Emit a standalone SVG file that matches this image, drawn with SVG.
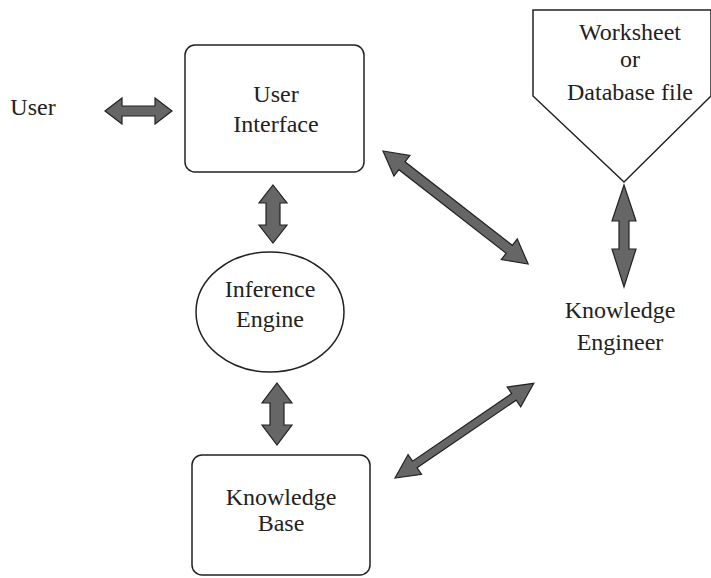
<svg xmlns="http://www.w3.org/2000/svg" width="711" height="578" viewBox="0 0 711 578">
<style>
.node{fill:#fff;stroke:#222;stroke-width:1.5}
.t{font-family:'Liberation Serif','DejaVu Serif',serif;font-size:24px;fill:#222;text-anchor:middle}
.arr{fill:#666;stroke:#222;stroke-width:1.2;stroke-linejoin:miter}
</style>
<rect width="711" height="578" fill="#fff"/>
<g id="user">
<text class="t" x="33" y="115" font-family="Liberation Serif, serif">User</text>
</g>
<g id="user-interface">
<rect class="node" x="185" y="45" width="179" height="127" rx="10"/>
<text class="t" x="276" y="102" font-family="Liberation Serif, serif">User</text>
<text class="t" x="276" y="132" font-family="Liberation Serif, serif">Interface</text>
</g>
<g id="inference-engine">
<ellipse class="node" cx="270" cy="312" rx="74" ry="60"/>
<text class="t" x="270" y="297" font-family="Liberation Serif, serif">Inference</text>
<text class="t" x="270" y="327" font-family="Liberation Serif, serif">Engine</text>
</g>
<g id="knowledge-base">
<rect class="node" x="192" y="455" width="178" height="120" rx="10"/>
<text class="t" x="281" y="505" font-family="Liberation Serif, serif">Knowledge</text>
<text class="t" x="281" y="531" font-family="Liberation Serif, serif">Base</text>
</g>
<g id="worksheet">
<polygon class="node" points="533,10 711,10 711,96 624,182 533,96"/>
<text class="t" x="630" y="40" font-family="Liberation Serif, serif">Worksheet</text>
<text class="t" x="630" y="67" font-family="Liberation Serif, serif">or</text>
<text class="t" x="630" y="100" font-family="Liberation Serif, serif">Database file</text>
</g>
<g id="knowledge-engineer">
<text class="t" x="620" y="318" font-family="Liberation Serif, serif">Knowledge</text>
<text class="t" x="620" y="350" font-family="Liberation Serif, serif">Engineer</text>
</g>
<g id="connectors">
<path class="arr" transform="translate(105,111)" d="M0,0 L17,-13 L17,-5 L50,-5 L50,-13 L67,0 L50,13 L50,5 L17,5 L17,13 Z"/>
<path class="arr" transform="translate(273,185) rotate(90)" d="M0,0 L18,-14 L18,-7 L40,-7 L40,-14 L58,0 L40,14 L40,7 L18,7 L18,14 Z"/>
<path class="arr" transform="translate(277,383) rotate(90)" d="M0,0 L20,-15 L20,-7 L42,-7 L42,-15 L62,0 L42,15 L42,7 L20,7 L20,15 Z"/>
<path class="arr" transform="translate(383,151) rotate(37.9)" d="M0,0 L24,-13 L24,-5 L160,-5 L160,-13 L184,0 L160,13 L160,5 L24,5 L24,13 Z"/>
<path class="arr" transform="translate(395,478) rotate(-34.3)" d="M0,0 L24,-12 L24,-4 L144,-4 L144,-12 L168,0 L144,12 L144,4 L24,4 L24,12 Z"/>
<path class="arr" transform="translate(624,185) rotate(90)" d="M0,0 L36,-12 L36,-5 L64,-5 L64,-12 L102,0 L64,12 L64,5 L36,5 L36,12 Z"/>
</g>
</svg>
